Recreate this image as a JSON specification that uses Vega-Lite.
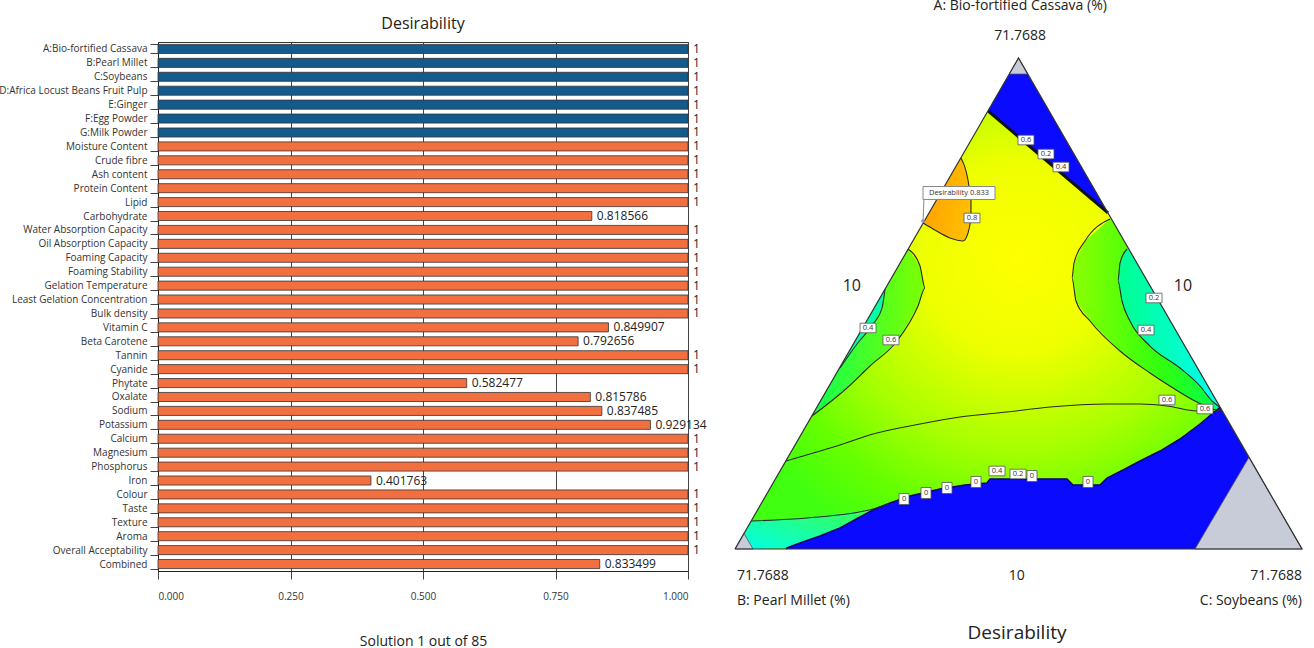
{
"$schema": "https://vega.github.io/schema/vega-lite/v6.json",
"padding": {"left": -2, "top": -2, "right": 0, "bottom": 0},
"bounds": "flush",
"spacing": 47,
"config": {"font": "Open Sans", "view": {"stroke": null}},
"datasets": {
"bars": [
{"name":"A:Bio-fortified Cassava","value":1,"kind":"factor"},
{"name":"B:Pearl Millet","value":1,"kind":"factor"},
{"name":"C:Soybeans","value":1,"kind":"factor"},
{"name":"D:Africa Locust Beans Fruit Pulp","value":1,"kind":"factor"},
{"name":"E:Ginger","value":1,"kind":"factor"},
{"name":"F:Egg Powder","value":1,"kind":"factor"},
{"name":"G:Milk Powder","value":1,"kind":"factor"},
{"name":"Moisture Content","value":1,"kind":"response"},
{"name":"Crude fibre","value":1,"kind":"response"},
{"name":"Ash content","value":1,"kind":"response"},
{"name":"Protein Content","value":1,"kind":"response"},
{"name":"Lipid","value":1,"kind":"response"},
{"name":"Carbohydrate","value":0.818566,"kind":"response"},
{"name":"Water Absorption Capacity","value":1,"kind":"response"},
{"name":"Oil Absorption Capacity","value":1,"kind":"response"},
{"name":"Foaming Capacity","value":1,"kind":"response"},
{"name":"Foaming Stability","value":1,"kind":"response"},
{"name":"Gelation Temperature","value":1,"kind":"response"},
{"name":"Least Gelation Concentration","value":1,"kind":"response"},
{"name":"Bulk density","value":1,"kind":"response"},
{"name":"Vitamin C","value":0.849907,"kind":"response"},
{"name":"Beta Carotene","value":0.792656,"kind":"response"},
{"name":"Tannin","value":1,"kind":"response"},
{"name":"Cyanide","value":1,"kind":"response"},
{"name":"Phytate","value":0.582477,"kind":"response"},
{"name":"Oxalate","value":0.815786,"kind":"response"},
{"name":"Sodium","value":0.837485,"kind":"response"},
{"name":"Potassium","value":0.929134,"kind":"response"},
{"name":"Calcium","value":1,"kind":"response"},
{"name":"Magnesium","value":1,"kind":"response"},
{"name":"Phosphorus","value":1,"kind":"response"},
{"name":"Iron","value":0.401763,"kind":"response"},
{"name":"Colour","value":1,"kind":"response"},
{"name":"Taste","value":1,"kind":"response"},
{"name":"Texture","value":1,"kind":"response"},
{"name":"Aroma","value":1,"kind":"response"},
{"name":"Overall Acceptability","value":1,"kind":"response"},
{"name":"Combined","value":0.833499,"kind":"response"}
],
"tri": [{"x":0,"y":0,"y2":0},{"x":50,"y":86.6,"y2":0},{"x":100,"y":0,"y2":0}],
"outline": [{"i":0,"x":0,"y":0},{"i":1,"x":50,"y":86.6},{"i":2,"x":100,"y":0},{"i":3,"x":0,"y":0}],
"orange": [{"y":54.32,"x":40.21,"x2":40.21},{"y":54.67,"x":38.69,"x2":40.44},{"y":55.38,"x":36.92,"x2":40.87},{"y":56.44,"x":34.92,"x2":41.2},{"y":57.5,"x":33.2,"x2":41.45},{"y":58.73,"x":33.91,"x2":41.62},{"y":61.38,"x":35.44,"x2":41.62},{"y":64.02,"x":36.96,"x2":41.27},{"y":66.67,"x":38.49,"x2":40.74},{"y":68.96,"x":39.81,"x2":39.86}],
"rgreen": [{"y":24.3,"x":85.97,"x2":85.97},{"y":24.69,"x":84.13,"x2":85.75},{"y":26.1,"x":81.13,"x2":84.93},{"y":28.4,"x":77.25,"x2":83.6},{"y":31.04,"x":73.19,"x2":82.08},{"y":34.92,"x":67.9,"x2":79.84},{"y":40.21,"x":62.61,"x2":76.79},{"y":43.74,"x":60.14,"x2":74.75},{"y":47.8,"x":59.44,"x2":72.4},{"y":50.44,"x":59.79,"x2":70.88},{"y":54.32,"x":61.73,"x2":68.64},{"y":58.2,"x":66.14,"x2":66.4}],
"rcyan": [{"y":25.04,"x":84.83,"x2":85.54},{"y":26.1,"x":84.13,"x2":84.93},{"y":28.75,"x":82.01,"x2":83.4},{"y":31.92,"x":78.48,"x2":81.57},{"y":35.8,"x":73.19,"x2":79.33},{"y":40.21,"x":69.66,"x2":76.79},{"y":43.74,"x":68.25,"x2":74.75},{"y":47.27,"x":67.55,"x2":72.71},{"y":50.44,"x":67.9,"x2":70.88},{"y":52.91,"x":69.14,"x2":69.45}],
"lgreen": [{"y":23.46,"x":13.54,"x2":13.58},{"y":28.4,"x":16.4,"x2":19.75},{"y":32.28,"x":18.64,"x2":23.81},{"y":36.68,"x":21.18,"x2":28.57},{"y":42.86,"x":24.74,"x2":32.28},{"y":46.03,"x":26.57,"x2":33.51},{"y":49.91,"x":28.81,"x2":32.63},{"y":52.91,"x":30.55,"x2":30.55}],
"lcyan": [{"y":31.92,"x":18.43,"x2":18.52},{"y":36.16,"x":20.88,"x2":21.52},{"y":39.68,"x":22.91,"x2":24.34},{"y":42.5,"x":24.54,"x2":25.93},{"y":45.86,"x":26.46,"x2":26.48}],
"bcyan": [{"x":0.88,"y":1.53,"y2":0},{"x":2.82,"y":4.94,"y2":0},{"x":9.17,"y":5.29,"y2":0.18},{"x":12.7,"y":5.47,"y2":1.5},{"x":18.52,"y":6.26,"y2":3.7},{"x":24.34,"y":7.05,"y2":6.88},{"x":25.57,"y":7.47,"y2":7.47}],
"bluetop": [{"x":44.62,"y":77.28,"y2":77.28},{"x":50,"y":86.6,"y2":72.68},{"x":65.78,"y":59.27,"y2":59.27}],
"bluebot": [{"x":9.0,"y":0},{"x":9.17,"y":0.18},{"x":11.46,"y":1.06},{"x":14.99,"y":2.29},{"x":18.52,"y":3.7},{"x":22.05,"y":5.64},{"x":24.69,"y":7.05},{"x":27.34,"y":8.11},{"x":30.86,"y":9.35},{"x":36.16,"y":10.58},{"x":40.56,"y":11.29},{"x":44.44,"y":11.64},{"x":44.97,"y":12.35},{"x":58.55,"y":12.35},{"x":59.61,"y":11.29},{"x":64.37,"y":11.29},{"x":65.61,"y":12.52},{"x":68.78,"y":14.11},{"x":71.43,"y":15.52},{"x":74.96,"y":17.28},{"x":78.48,"y":19.4},{"x":82.01,"y":22.05},{"x":84.3,"y":23.99},{"x":85.54,"y":25.0},{"x":100,"y":0}],
"grey": [{"id":"a","x":81.13,"y":0,"y2":0},{"id":"a","x":90.65,"y":16.2,"y2":0},{"id":"a","x":100,"y":0,"y2":0},{"id":"b","x":0,"y":0,"y2":0},{"id":"b","x":1.59,"y":2.75,"y2":0},{"id":"b","x":3.17,"y":0,"y2":0},{"id":"c","x":48.37,"y":83.77,"y2":83.77},{"id":"c","x":50,"y":86.6,"y2":83.77},{"id":"c","x":51.63,"y":83.77,"y2":83.77}],
"cont": [
{"id":"o","i":0,"x":39.86,"y":68.96},{"id":"o","i":1,"x":40.74,"y":66.67},{"id":"o","i":2,"x":41.27,"y":64.02},{"id":"o","i":3,"x":41.62,"y":61.38},{"id":"o","i":4,"x":41.62,"y":58.73},{"id":"o","i":5,"x":41.09,"y":55.73},{"id":"o","i":6,"x":40.21,"y":54.32},{"id":"o","i":7,"x":37.92,"y":54.85},{"id":"o","i":8,"x":34.92,"y":56.44},{"id":"o","i":9,"x":33.16,"y":57.5},
{"id":"r6","i":0,"x":66.14,"y":58.2},{"id":"r6","i":1,"x":61.73,"y":54.32},{"id":"r6","i":2,"x":59.79,"y":50.44},{"id":"r6","i":3,"x":59.44,"y":47.8},{"id":"r6","i":4,"x":60.14,"y":43.74},{"id":"r6","i":5,"x":62.61,"y":40.21},{"id":"r6","i":6,"x":67.9,"y":34.92},{"id":"r6","i":7,"x":73.19,"y":31.04},{"id":"r6","i":8,"x":77.25,"y":28.4},{"id":"r6","i":9,"x":81.13,"y":26.1},{"id":"r6","i":10,"x":84.13,"y":24.69},{"id":"r6","i":11,"x":85.97,"y":24.3},
{"id":"r4","i":0,"x":69.14,"y":52.91},{"id":"r4","i":1,"x":67.9,"y":50.44},{"id":"r4","i":2,"x":67.55,"y":47.27},{"id":"r4","i":3,"x":68.25,"y":43.74},{"id":"r4","i":4,"x":69.66,"y":40.21},{"id":"r4","i":5,"x":73.19,"y":35.8},{"id":"r4","i":6,"x":78.48,"y":31.92},{"id":"r4","i":7,"x":82.01,"y":28.75},{"id":"r4","i":8,"x":84.13,"y":26.1},{"id":"r4","i":9,"x":85.5,"y":25.0},
{"id":"l6","i":0,"x":30.51,"y":52.91},{"id":"l6","i":1,"x":32.63,"y":49.91},{"id":"l6","i":2,"x":33.51,"y":46.03},{"id":"l6","i":3,"x":32.28,"y":42.86},{"id":"l6","i":4,"x":28.57,"y":36.68},{"id":"l6","i":5,"x":23.81,"y":32.28},{"id":"l6","i":6,"x":19.75,"y":28.4},{"id":"l6","i":7,"x":13.58,"y":23.46},
{"id":"l4","i":0,"x":26.46,"y":45.86},{"id":"l4","i":1,"x":25.93,"y":42.5},{"id":"l4","i":2,"x":24.34,"y":39.68},{"id":"l4","i":3,"x":21.52,"y":36.16},{"id":"l4","i":4,"x":18.52,"y":31.92},
{"id":"lg","i":0,"x":8.99,"y":15.52},{"id":"lg","i":1,"x":13.23,"y":16.75},{"id":"lg","i":2,"x":18.52,"y":18.34},{"id":"lg","i":3,"x":24.34,"y":20.28},{"id":"lg","i":4,"x":32.63,"y":22.05},{"id":"lg","i":5,"x":39.68,"y":23.28},{"id":"lg","i":6,"x":47.97,"y":24.16},{"id":"lg","i":7,"x":55.56,"y":25.04},{"id":"lg","i":8,"x":65.61,"y":25.57},{"id":"lg","i":9,"x":71.43,"y":25.57},{"id":"lg","i":10,"x":76.19,"y":25.22},{"id":"lg","i":11,"x":81.48,"y":24.34},{"id":"lg","i":12,"x":84.48,"y":24.34},
{"id":"bl","i":0,"x":2.82,"y":4.94},{"id":"bl","i":1,"x":12.7,"y":5.47},{"id":"bl","i":2,"x":24.34,"y":7.05},{"id":"bl","i":3,"x":26.98,"y":7.94}
],
"topline": [{"x":44.62,"y":77.28},{"x":65.78,"y":59.27}],
"boxes": [{"t":"0.6","x":51.32,"y":72.13},{"t":"0.2","x":54.85,"y":69.66},{"t":"0.4","x":57.5,"y":67.37},{"t":"0.8","x":41.8,"y":58.38},{"t":"0.2","x":73.9,"y":44.27},{"t":"0.4","x":72.49,"y":38.62},{"t":"0.6","x":76.19,"y":26.28},{"t":"0.6","x":82.89,"y":24.69},{"t":"0.4","x":23.46,"y":38.98},{"t":"0.6","x":27.51,"y":36.86},{"t":"0.4","x":46.21,"y":13.76},{"t":"0.2","x":49.91,"y":13.23},{"t":"0","x":29.81,"y":8.82},{"t":"0","x":33.69,"y":9.88},{"t":"0","x":37.39,"y":10.76},{"t":"0","x":42.5,"y":11.82},{"t":"0","x":52.38,"y":12.87},{"t":"0","x":62.26,"y":11.82}],
"flag": [{"t":"Desirability  0.833","x":39.51,"y":62.79}],
"pointer": [{"i":0,"x":33.33,"y":61.73},{"i":1,"x":33.16,"y":57.85}],
"pdot": [{"x":33.16,"y":57.85}],
"lab_c": [{"t":"A: Bio-fortified Cassava (%)","x":50.3,"y":95.8},{"t":"71.7688","x":50.3,"y":90.5},{"t":"10","x":49.7,"y":-4.76}],
"lab_l": [{"t":"71.7688","x":0.35,"y":-4.76},{"t":"B: Pearl Millet (%)","x":0.35,"y":-9.17}],
"lab_r": [{"t":"71.7688","x":100,"y":-4.76},{"t":"C: Soybeans (%)","x":100,"y":-9.17}],
"lab_side": [{"t":"10","x":20.6,"y":46.4},{"t":"10","x":79.0,"y":46.4}],
"lab_title": [{"t":"Desirability","x":49.74,"y":-14.8}]
},
"hconcat": [
{
"width": 530, "height": 529,
"view": {"stroke": "#333", "strokeWidth": 1},
"title": {"text": "Desirability", "fontSize": 16, "fontWeight": "normal", "color": "#222", "offset": 5},
"data": {"name": "bars"},
"encoding": {
  "y": {"field": "name", "type": "nominal", "sort": null,
        "scale": {"paddingInner": 0.35, "paddingOuter": 0.175},
        "axis": {"title": null, "labelFontSize": 10, "labelColor": "#333", "tickBand": "extent", "tickSize": 8, "tickColor": "#444", "domainColor": "#222", "labelPadding": 3, "labelLimit": 300}},
  "x": {"field": "value", "type": "quantitative", "scale": {"domain": [0, 1], "nice": false},
        "axis": {"values": [0, 0.25, 0.5, 0.75, 1], "format": ".3f", "tickSize": 8, "tickColor": "#444", "domainColor": "#222", "labelFontSize": 10, "labelColor": "#333", "labelPadding": 12, "grid": true, "gridColor": "#444", "gridOpacity": 1, "title": "Solution 1 out of 85", "titleFontSize": 14, "titleFontWeight": "normal", "titleColor": "#222", "titlePadding": 33}}
},
"layer": [
  {"mark": {"type": "bar", "stroke": "#333", "strokeWidth": 0.8},
   "encoding": {"color": {"field": "kind", "type": "nominal", "scale": {"domain": ["factor", "response"], "range": ["#125b8c", "#f2703f"]}, "legend": null}}},
  {"mark": {"type": "text", "align": "left", "dx": 5, "fontSize": 12, "color": "#222"},
   "encoding": {"text": {"field": "value", "type": "quantitative", "format": ".6~f"}}}
]
},
{
"width": 567, "height": 529,
"encoding": {
  "x": {"field": "x", "type": "quantitative", "scale": {"domain": [0, 100], "nice": false, "zero": false}, "axis": null},
  "y": {"field": "y", "type": "quantitative", "scale": {"domain": [-3.88, 89.42], "nice": false, "zero": false}, "axis": null}
},
"layer": [
  {"data": {"name": "tri"}, "mark": {"type": "area", "color": {"gradient": "radial", "x1": 0.5, "y1": 0.42, "x2": 0.5, "y2": 0.42, "r1": 0, "r2": 0.56, "stops": [{"offset": 0, "color": "#ffff00"}, {"offset": 0.3, "color": "#eeff00"}, {"offset": 0.6, "color": "#a8ff00"}, {"offset": 0.82, "color": "#66ff00"}, {"offset": 1, "color": "#40ff10"}]}},
   "encoding": {"y2": {"field": "y2"}}},
  {"data": {"name": "orange"}, "mark": {"type": "area", "orient": "horizontal", "color": {"gradient": "linear", "x1": 0, "y1": 0.3, "x2": 1, "y2": 0.6, "stops": [{"offset": 0, "color": "#ffa000"}, {"offset": 1, "color": "#ffc000"}]}},
   "encoding": {"x2": {"field": "x2"}}},
  {"data": {"name": "rgreen"}, "mark": {"type": "area", "orient": "horizontal", "color": {"gradient": "linear", "x1": 0, "y1": 0, "x2": 1, "y2": 0, "stops": [{"offset": 0, "color": "#8cff00"}, {"offset": 0.6, "color": "#30ff10"}, {"offset": 1, "color": "#00ff50"}]}},
   "encoding": {"x2": {"field": "x2"}}},
  {"data": {"name": "rcyan"}, "mark": {"type": "area", "orient": "horizontal", "color": {"gradient": "linear", "x1": 0, "y1": 0, "x2": 1, "y2": 0, "stops": [{"offset": 0, "color": "#00ff90"}, {"offset": 1, "color": "#00fff0"}]}},
   "encoding": {"x2": {"field": "x2"}}},
  {"data": {"name": "lgreen"}, "mark": {"type": "area", "orient": "horizontal", "color": {"gradient": "linear", "x1": 0, "y1": 0, "x2": 1, "y2": 0, "stops": [{"offset": 0, "color": "#10ff50"}, {"offset": 1, "color": "#80ff00"}]}},
   "encoding": {"x2": {"field": "x2"}}},
  {"data": {"name": "lcyan"}, "mark": {"type": "area", "orient": "horizontal", "color": "#00ffa8"},
   "encoding": {"x2": {"field": "x2"}}},
  {"data": {"name": "bcyan"}, "mark": {"type": "area", "color": {"gradient": "linear", "x1": 0, "y1": 1, "x2": 1, "y2": 0, "stops": [{"offset": 0, "color": "#00ffe8"}, {"offset": 1, "color": "#40ff40"}]}},
   "encoding": {"y2": {"field": "y2"}}},
  {"data": {"name": "bluetop"}, "mark": {"type": "area", "color": "#0a0aff"},
   "encoding": {"y2": {"field": "y2"}}},
  {"data": {"name": "bluebot"}, "mark": {"type": "area", "color": "#0a0aff"},
   "encoding": {"y2": {"datum": 0}}},
  {"data": {"name": "grey"}, "mark": {"type": "area", "color": "#c8ccd8", "stroke": "#555", "strokeWidth": 0.8},
   "encoding": {"y2": {"field": "y2"}, "detail": {"field": "id"}}},
  {"data": {"name": "bluebot"}, "transform": [{"filter": "datum.x < 99"}], "mark": {"type": "line", "color": "#000070", "strokeWidth": 1.5},
   "encoding": {}},
  {"data": {"name": "cont"}, "mark": {"type": "line", "color": "#2a2a2a", "strokeWidth": 1.1, "interpolate": "monotone"},
   "encoding": {"detail": {"field": "id"}, "order": {"field": "i"}}},
  {"data": {"name": "topline"}, "mark": {"type": "line", "color": "#111", "strokeWidth": 3},
   "encoding": {}},
  {"data": {"name": "outline"}, "mark": {"type": "line", "color": "#333", "strokeWidth": 1.2},
   "encoding": {"order": {"field": "i"}}},
  {"data": {"name": "boxes"}, "transform": [{"filter": "datum.t != '0'"}], "mark": {"type": "point", "shape": "M-1,-0.6L1,-0.6L1,0.6L-1,0.6Z", "size": 256, "filled": true, "fill": "white", "stroke": "#555", "strokeWidth": 0.8, "opacity": 1},
   "encoding": {}},
  {"data": {"name": "boxes"}, "transform": [{"filter": "datum.t == '0'"}], "mark": {"type": "point", "shape": "M-1,-1.1L1,-1.1L1,1.1L-1,1.1Z", "size": 100, "filled": true, "fill": "white", "stroke": "#555", "strokeWidth": 0.8, "opacity": 1},
   "encoding": {}},
  {"data": {"name": "boxes"}, "mark": {"type": "text", "fontSize": 7.5, "color": "#333"},
   "encoding": {"text": {"field": "t"}}},
  {"data": {"name": "pointer"}, "mark": {"type": "line", "color": "#888", "strokeWidth": 1},
   "encoding": {"order": {"field": "i"}}},
  {"data": {"name": "pdot"}, "mark": {"type": "point", "filled": true, "size": 14, "color": "#8899bb", "opacity": 1},
   "encoding": {}},
  {"data": {"name": "flag"}, "mark": {"type": "point", "shape": "M-1,-0.18L1,-0.18L1,0.18L-1,0.18Z", "size": 5184, "filled": true, "fill": "white", "stroke": "#888", "strokeWidth": 1, "opacity": 1},
   "encoding": {}},
  {"data": {"name": "flag"}, "mark": {"type": "text", "fontSize": 7.5, "color": "#333"},
   "encoding": {"text": {"field": "t"}}},
  {"data": {"name": "lab_c"}, "mark": {"type": "text", "fontSize": 14, "color": "#222", "align": "center", "baseline": "middle"},
   "encoding": {"text": {"field": "t"}}},
  {"data": {"name": "lab_l"}, "mark": {"type": "text", "fontSize": 14, "color": "#222", "align": "left", "baseline": "middle"},
   "encoding": {"text": {"field": "t"}}},
  {"data": {"name": "lab_r"}, "mark": {"type": "text", "fontSize": 14, "color": "#222", "align": "right", "baseline": "middle"},
   "encoding": {"text": {"field": "t"}}},
  {"data": {"name": "lab_side"}, "mark": {"type": "text", "fontSize": 16, "color": "#222", "align": "center", "baseline": "middle"},
   "encoding": {"text": {"field": "t"}}},
  {"data": {"name": "lab_title"}, "mark": {"type": "text", "fontSize": 19, "color": "#222", "align": "center", "baseline": "middle"},
   "encoding": {"text": {"field": "t"}}}
]
}
]
}
